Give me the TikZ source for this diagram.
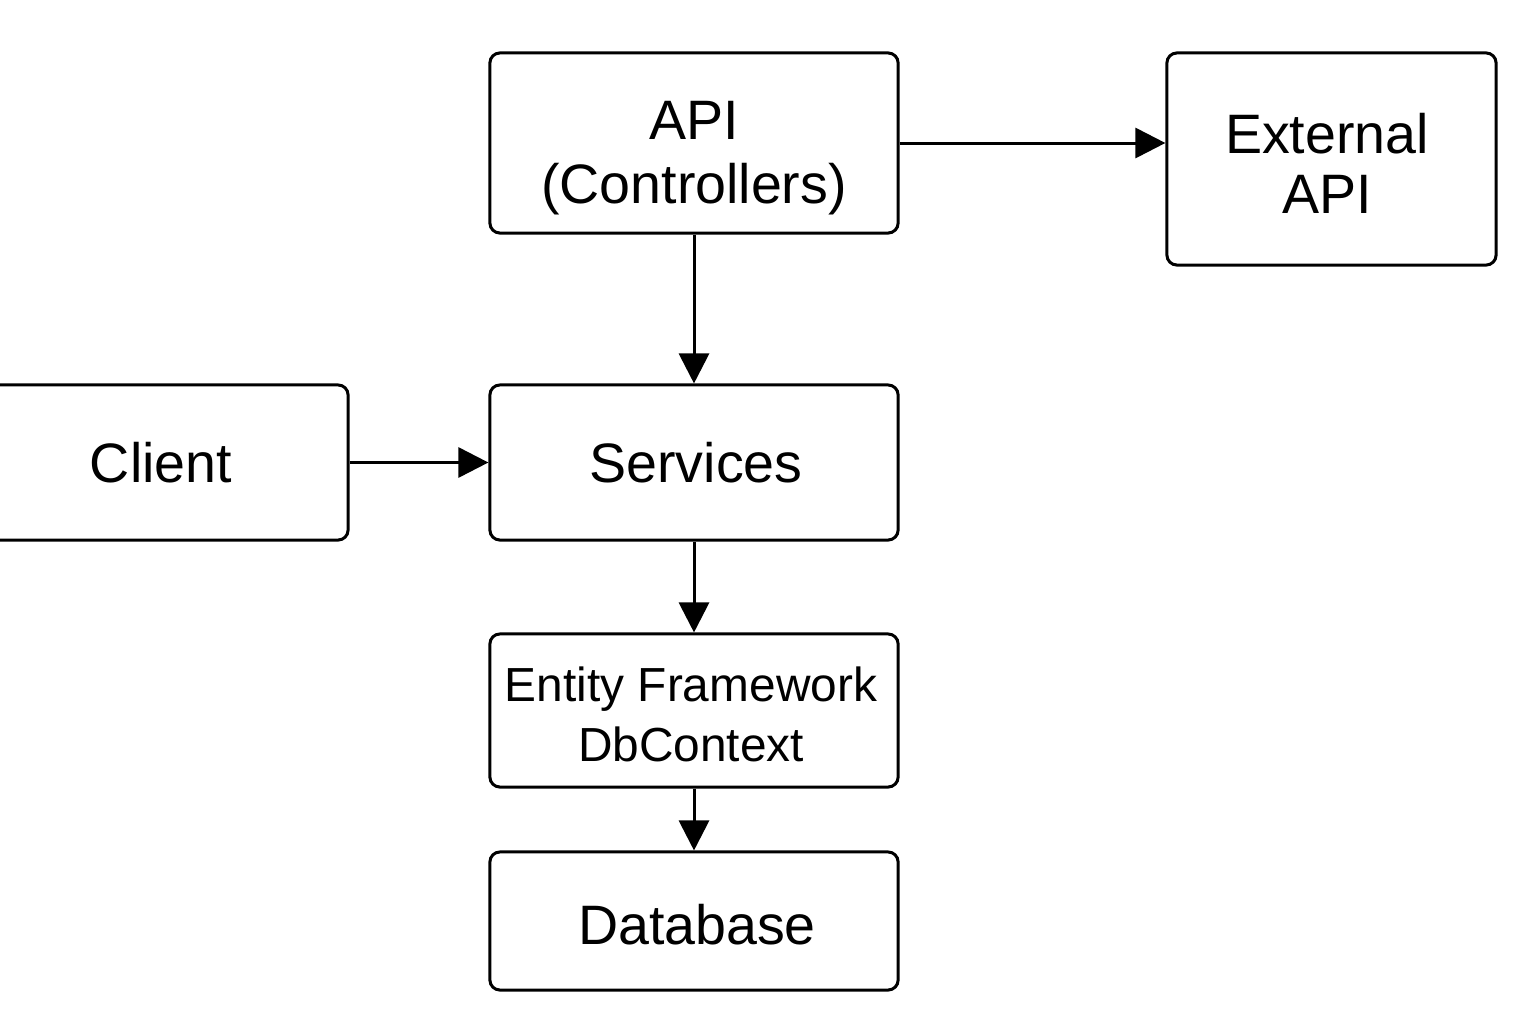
\documentclass[tikz,border=0pt]{standalone}
\usepackage{fontspec}
\setmainfont{Liberation Sans}
\usetikzlibrary{arrows.meta}
\tikzset{
  box/.style={draw=black, line width=0.03cm, rounded corners=0.1cm, inner sep=0pt},
  txt/.style={inner sep=0pt, align=center, font=\fontsize{15.8pt}{17.1pt}\selectfont},
  conn/.style={line width=0.03cm, -{Triangle[length=0.3cm,width=0.3cm]}}
}
\begin{document}
\begin{tikzpicture}[x=0.01cm,y=-0.01cm]
\useasboundingbox (0,0) rectangle (1536,1024);
% boxes
\node[box, minimum width=4.08cm, minimum height=1.80cm] (api) at (694,143) {};
\node[box, minimum width=3.29cm, minimum height=2.12cm] (ext) at (1331.5,159) {};
\node[box, minimum width=3.68cm, minimum height=1.55cm] (client) at (164,462.5) {};
\node[box, minimum width=4.08cm, minimum height=1.55cm] (svc) at (694,462.5) {};
\node[box, minimum width=4.08cm, minimum height=1.53cm] (ef) at (694,710.5) {};
\node[box, minimum width=4.08cm, minimum height=1.38cm] (db) at (694,921) {};
% texts
\node[txt, font=\fontsize{15.8pt}{18.2pt}\selectfont] (apitxt) at (694,158) {API\\(Controllers)};
\node[txt] (exttxt) at (1327,163) {External\\API};
\node[txt] (clienttxt) at (161,463) {Client};
\node[txt] (svctxt) at (696,463) {Services};
\node[txt, font=\fontsize{13.6pt}{17.1pt}\selectfont] (eftxt) at (691,714) {Entity Framework\\DbContext};
\node[txt] (dbtxt) at (697,925) {Database};
% connectors
\draw[conn] (api.east) -- (api.east -| ext.west);
\draw[conn] (api) -- (svc);
\draw[conn] (client) -- (svc);
\draw[conn] (svc) -- (ef);
\draw[conn] (ef) -- (db);
\end{tikzpicture}
\end{document}
